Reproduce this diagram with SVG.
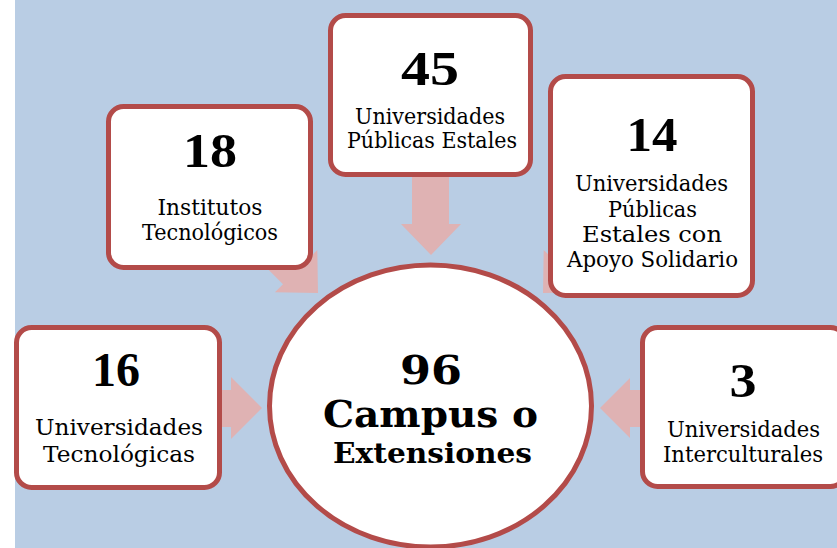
<svg xmlns="http://www.w3.org/2000/svg" width="837" height="548" viewBox="0 0 837 548">
<style>
.bg{fill:#b9cde4}
.box{fill:#ffffff;stroke:#b34b49;stroke-width:5}
.arr{fill:#dfb2b3;stroke:none}
.num{font-family:"Liberation Serif","Times New Roman",serif;font-weight:bold;font-size:48px;fill:#000;text-anchor:middle}
.lbl{font-family:"DejaVu Serif","Liberation Serif",serif;font-size:23px;fill:#000;text-anchor:middle}
.big{font-family:"DejaVu Serif","Liberation Serif",serif;font-weight:bold;fill:#000;text-anchor:middle}
</style>
<rect x="0" y="0" width="837" height="548" fill="#ffffff"/>
<rect class="bg" x="15" y="0" width="822" height="548"/>
<g id="connectors">
<polygon class="arr" points="412,170 449,170 449,224 461,224 431,255 401,224 412,224"/>
<polygon class="arr" points="266.8,215.6 309.2,258 317.3,249.9 318,293 274.9,292.3 283,284.2 240.6,241.8"/>
<polygon class="arr" points="594.2,215.6 551.8,258 543.7,249.9 543,293 586.1,292.3 578,284.2 620.4,241.8"/>
<polygon class="arr" points="215,390 231,390 231,377 262,408 231,439 231,427 215,427"/>
<polygon class="arr" points="648,390 630,390 630,378 600,408 630,438 630,427 648,427"/>
</g>
<g id="node-18">
<rect class="box" x="108.5" y="106.5" width="202" height="161" rx="15"/>
<text class="num" x="210" y="167" textLength="54" lengthAdjust="spacingAndGlyphs">18</text>
<text class="lbl" x="210" y="215" textLength="105" lengthAdjust="spacingAndGlyphs">Institutos</text>
<text class="lbl" x="210" y="240" textLength="136" lengthAdjust="spacingAndGlyphs">Tecnológicos</text>
</g>
<g id="node-45">
<rect class="box" x="330.5" y="15.5" width="200" height="159" rx="15"/>
<text class="num" x="430" y="85" textLength="58" lengthAdjust="spacingAndGlyphs">45</text>
<text class="lbl" x="430" y="124" font-size="21" textLength="150" lengthAdjust="spacingAndGlyphs">Universidades</text>
<text class="lbl" x="432" y="148" font-size="21" textLength="170" lengthAdjust="spacingAndGlyphs">Públicas Estales</text>
</g>
<g id="node-14">
<rect class="box" x="550.5" y="76.5" width="202" height="219" rx="15"/>
<text class="num" x="652" y="151" textLength="51" lengthAdjust="spacingAndGlyphs">14</text>
<text class="lbl" x="651.5" y="191" textLength="153" lengthAdjust="spacingAndGlyphs">Universidades</text>
<text class="lbl" x="652.5" y="217" textLength="89" lengthAdjust="spacingAndGlyphs">Públicas</text>
<text class="lbl" x="652" y="242" textLength="140" lengthAdjust="spacingAndGlyphs">Estales con</text>
<text class="lbl" x="652.5" y="267" textLength="171" lengthAdjust="spacingAndGlyphs">Apoyo Solidario</text>
</g>
<g id="node-16">
<rect class="box" x="16.5" y="327.5" width="203" height="160" rx="15"/>
<text class="num" x="116" y="386" textLength="48" lengthAdjust="spacingAndGlyphs">16</text>
<text class="lbl" x="119" y="435" textLength="168" lengthAdjust="spacingAndGlyphs">Universidades</text>
<text class="lbl" x="119" y="462" textLength="152" lengthAdjust="spacingAndGlyphs">Tecnológicas</text>
</g>
<g id="node-3">
<rect class="box" x="642.5" y="327.5" width="203" height="159" rx="15"/>
<text class="num" x="743" y="397" textLength="27" lengthAdjust="spacingAndGlyphs">3</text>
<text class="lbl" x="743.5" y="437" textLength="153" lengthAdjust="spacingAndGlyphs">Universidades</text>
<text class="lbl" x="743" y="462" textLength="160" lengthAdjust="spacingAndGlyphs">Interculturales</text>
</g>
<g id="node-96">
<ellipse class="box" cx="430.5" cy="406" rx="161" ry="141"/>
<text class="big" x="431" y="384" font-size="40" textLength="62" lengthAdjust="spacingAndGlyphs">96</text>
<text class="big" x="430.5" y="427" font-size="38" textLength="215" lengthAdjust="spacingAndGlyphs">Campus o</text>
<text class="big" x="432.5" y="463" font-size="28" textLength="199" lengthAdjust="spacingAndGlyphs">Extensiones</text>
</g>
</svg>
